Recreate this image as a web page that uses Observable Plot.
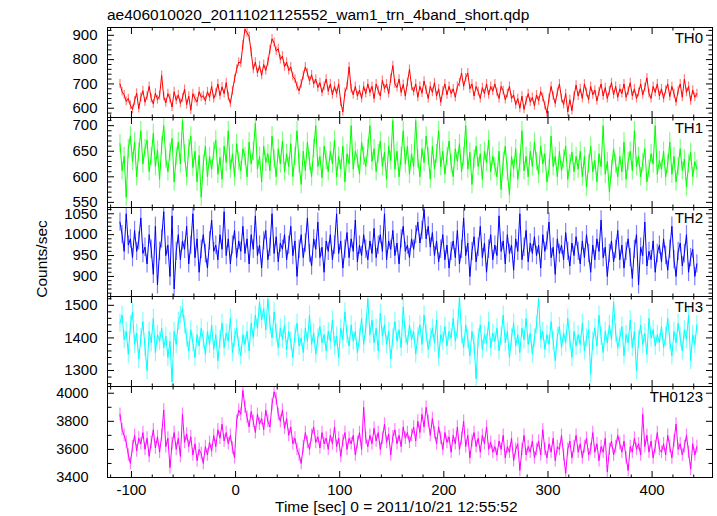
<!DOCTYPE html>
<html><head><meta charset="utf-8">
<script src="https://cdn.jsdelivr.net/npm/d3@7"></script>
<script src="https://cdn.jsdelivr.net/npm/@observablehq/plot@0.6"></script>
<style>
body{margin:0;background:#fff;}
#wrap{position:relative;width:717px;height:516px;overflow:hidden;background:#fff}
#wrap svg{position:absolute;left:0}
</style></head><body><div id="wrap"></div>
<script>
// time bins: start time and bin width (sec)
const t0 = -111, dt = 2;
const th0 = [
700,668,655,628,640,612,595,630,662,598,645,672,625,650,690,640,618,662,635,652,
735,648,622,660,640,605,668,632,655,620,642,678,615,650,592,660,640,625,668,645,
652,630,668,645,690,640,662,700,652,688,660,705,648,620,672,720,760,790,785,860,
925,910,895,830,760,790,745,775,735,780,755,790,840,885,870,835,845,800,815,770,
790,755,770,730,720,690,672,700,735,770,745,712,738,700,720,685,705,665,690,720,
670,700,655,690,660,700,625,585,665,690,770,680,655,690,650,675,640,690,660,700,
665,690,640,700,672,650,715,680,700,660,722,775,700,685,720,665,698,650,705,760,
690,668,700,645,690,662,712,675,640,690,665,705,650,680,625,670,700,655,690,660,
680,645,690,705,745,690,725,745,680,700,650,690,668,640,685,660,700,655,690,670,
700,665,640,690,672,635,660,690,640,655,615,640,600,650,595,630,660,625,645,610,
655,630,668,645,612,580,640,690,650,620,665,700,640,615,660,585,635,590,650,695,
650,680,640,700,665,635,690,655,675,630,668,700,650,685,640,672,705,655,690,645,
680,660,700,645,670,705,650,680,640,665,700,655,685,725,660,640,690,665,700,650,
680,640,675,700,648,690,660,625,672,700,645,720,665,690,630,675,645,660];
const th1 = [
665,612,640,560,655,680,630,668,600,648,690,625,655,672,610,640,685,620,652,595,
660,700,635,610,648,675,590,640,668,625,710,645,600,655,680,618,650,590,642,560,
625,660,600,640,615,650,672,605,638,595,660,628,690,615,645,600,665,630,612,655,
640,600,668,625,650,705,615,640,590,660,628,645,612,680,635,600,655,625,670,610,
645,620,665,600,640,690,625,585,650,612,668,630,600,655,700,620,640,598,660,632,
610,650,625,672,600,640,615,660,590,645,625,700,615,650,635,605,668,640,620,655,
700,630,655,610,645,670,620,648,595,660,632,710,615,650,600,640,690,625,660,605,
645,620,710,635,600,655,628,680,640,595,660,615,645,690,620,650,605,640,670,625,
600,655,630,665,610,640,700,615,648,585,635,660,620,645,595,650,628,672,610,640,
620,600,650,575,630,660,610,565,640,615,655,595,628,690,612,640,600,650,620,668,
630,605,660,625,645,590,615,680,620,640,600,650,612,635,660,595,625,648,610,640,
615,650,600,640,580,625,660,610,632,590,645,620,700,605,630,570,615,655,625,600,
640,610,668,595,630,650,612,690,620,640,600,628,655,590,615,645,625,700,605,632,
615,650,600,625,668,605,640,590,620,655,612,635,580,625,648,600,630,615];
const th2 = [
1030,1000,960,1050,975,990,945,1010,960,985,1040,955,970,930,1000,965,905,1020,880,960,
990,1055,950,975,900,1045,870,960,1000,940,985,965,1020,930,975,1050,945,990,910,965,
1000,955,920,985,1035,960,975,940,1000,965,1055,950,990,930,975,1010,945,985,960,1020,
955,990,930,1000,965,1045,950,975,920,985,1010,940,970,1050,955,995,935,980,965,1000,
940,975,1020,950,985,900,965,1000,945,980,1040,955,925,990,965,1030,945,970,910,985,
960,1000,940,975,1050,955,985,920,965,1005,945,990,960,1035,935,975,950,1000,965,940,
985,955,1015,945,975,1000,960,1050,940,985,965,1010,950,980,930,990,1020,960,975,945,
990,965,1000,1030,980,1010,1060,990,1020,970,1005,950,985,935,965,1000,940,975,920,960,
985,945,1010,930,965,1040,950,980,900,960,995,935,970,1020,945,980,910,965,1000,940,
975,950,1045,960,985,930,1000,955,975,915,990,960,1050,940,970,1010,935,980,955,995,
950,975,920,1000,960,985,1030,945,970,905,990,955,975,940,1005,960,925,980,950,995,
960,930,985,945,1000,955,910,975,940,990,960,1035,945,970,900,955,985,935,965,1010,
940,975,920,960,990,945,895,965,1000,880,970,950,1030,925,960,940,985,910,955,975,
935,990,950,915,965,1020,940,900,960,980,925,955,1000,910,945,965,900,930];
const th3 = [
1445,1470,1395,1420,1350,1440,1480,1380,1415,1335,1400,1450,1370,1300,1420,1385,1460,1355,1410,1390,
1430,1370,1405,1340,1390,1265,1420,1380,1450,1470,1490,1440,1400,1360,1425,1385,1340,1410,1375,1430,
1395,1350,1420,1380,1440,1365,1410,1330,1395,1445,1370,1415,1390,1460,1355,1400,1430,1375,1345,1410,
1380,1420,1360,1445,1400,1470,1430,1510,1455,1490,1425,1520,1440,1400,1480,1415,1370,1430,1395,1440,
1365,1420,1390,1340,1410,1445,1375,1400,1355,1430,1390,1470,1380,1415,1350,1400,1435,1385,1410,1360,
1420,1390,1455,1375,1405,1340,1430,1395,1480,1410,1375,1440,1390,1420,1355,1400,1460,1380,1430,1520,
1410,1455,1385,1430,1360,1475,1405,1440,1380,1420,1335,1400,1450,1390,1425,1370,1495,1410,1380,1440,
1395,1420,1350,1405,1440,1380,1470,1415,1365,1400,1430,1385,1455,1340,1410,1390,1435,1375,1420,1400,
1460,1390,1425,1525,1410,1370,1440,1395,1345,1420,1380,1275,1400,1440,1365,1410,1385,1450,1370,1415,
1390,1430,1360,1405,1470,1385,1420,1340,1400,1445,1375,1410,1355,1430,1395,1460,1380,1415,1350,1400,
1440,1520,1395,1420,1365,1410,1380,1450,1390,1330,1405,1435,1370,1415,1385,1460,1395,1340,1420,1375,
1410,1380,1445,1360,1400,1425,1290,1390,1430,1375,1470,1405,1355,1420,1385,1440,1395,1510,1415,1370,
1400,1435,1345,1410,1385,1455,1370,1420,1300,1395,1440,1380,1415,1350,1460,1400,1425,1375,1410,1385,
1435,1370,1405,1460,1390,1345,1420,1385,1445,1400,1360,1425,1395,1470,1330,1410,1380,1440];
const th0123 = [
3850,3740,3700,3650,3560,3500,3620,3700,3590,3680,3640,3720,3600,3680,3550,3650,3740,3610,3690,3580,
3700,3880,3620,3680,3470,3640,3720,3600,3680,3550,3850,3650,3710,3620,3690,3560,3640,3520,3600,3570,
3500,3620,3560,3650,3590,3700,3620,3740,3680,3780,3660,3720,3640,3700,3610,3540,3800,3880,3850,4020,
3900,3830,3760,3870,3800,3720,3850,3780,3820,3740,3880,3800,3760,3920,4010,3960,3850,3800,3880,3750,
3820,3700,3760,3640,3680,3600,3560,3500,3620,3720,3650,3600,3700,3760,3650,3690,3610,3720,3640,3680,
3600,3700,3640,3760,3620,3680,3550,3660,3720,3600,3680,3640,3700,3560,3650,3720,3600,3900,3680,3620,
3700,3640,3750,3660,3720,3600,3680,3780,3650,3710,3560,3690,3740,3640,3700,3620,3760,3680,3720,3650,
3700,3760,3660,3800,3720,3850,3760,3900,3800,3700,3820,3720,3640,3760,3680,3600,3720,3650,3690,3580,
3700,3640,3760,3600,3680,3800,3620,3700,3540,3660,3720,3620,3680,3580,3700,3640,3760,3600,3650,3580,
3620,3560,3660,3600,3700,3540,3620,3580,3680,3520,3600,3640,3450,3600,3700,3560,3620,3580,3660,3540,
3600,3660,3560,3740,3600,3540,3640,3580,3680,3520,3620,3600,3700,3560,3430,3600,3660,3540,3620,3700,
3580,3640,3540,3620,3680,3560,3600,3720,3580,3640,3520,3620,3580,3680,3440,3600,3660,3560,3620,3700,
3640,3580,3660,3540,3450,3620,3580,3680,3600,3640,3560,3850,3620,3700,3580,3660,3540,3620,3720,3600,
3580,3640,3560,3700,3620,3540,3660,3780,3600,3640,3560,3620,3700,3580,3460,3640,3560,3620];

const series = [th0, th1, th2, th3, th0123];
const bands = ["TH0", "TH1", "TH2", "TH3", "TH0123"];
const colors = ["#ff0000", "#00ff00", "#0000ff", "#00ffff", "#ff00ff"];
const halfErr = [18, 18, 22, 28, 45];
const yDomains = [[562, 932], [540, 716], [852, 1065], [1251, 1527], [3400, 4048]];
const yMajor = [[600, 700, 800, 900], [550, 600, 650, 700], [900, 950, 1000, 1050], [1300, 1400, 1500], [3400, 3600, 3800, 4000]];
const yMinorStep = [20, 10, 10, 20, 100];
const xMajor = [-100, 0, 100, 200, 300, 400];
const xMinorStep = 20;
const xDomain = [-123, 458];
const title = "ae406010020_20111021125552_wam1_trn_4band_short.qdp";
const yTitle = "Counts/sec";
const xTitle = "Time [sec] 0 = 2011/10/21 12:55:52";

const W = 717, ML = 107, MR = 5, PAD = 4;
const edges = [27, 117, 207, 296, 386, 477];
const innerW = W - ML - MR;
const FONT = "'Liberation Sans', Arial, Helvetica, sans-serif";
const wrap = document.getElementById("wrap");

const xMinor = d3.range(-120, 441, xMinorStep).filter(v => !xMajor.includes(v));

series.forEach((vals, i) => {
  const h = edges[i + 1] - edges[i];
  const last = i === series.length - 1;
  const extraB = last ? 36 : 0;
  const data = vals.map((v, k) => ({t: t0 + k * dt, v, lo: v - halfErr[i], hi: v + halfErr[i]}));
  const [d0, d1] = yDomains[i];
  const st = yMinorStep[i];
  const yMinor = d3.range(Math.ceil(d0 / st) * st, d1 + 1e-9, st).filter(v => !yMajor[i].includes(v));
  const tk = (arr, size, o) => Plot.axisX(arr, {tickSize: size, fill: "none", label: null, ...o});
  const tky = (arr, size, o) => Plot.axisY(arr, {tickSize: size, fill: "none", label: null, ...o});
  const marks = [
    Plot.ruleX(data, {x: "t", y1: "lo", y2: "hi", stroke: colors[i], strokeOpacity: 0.5, strokeWidth: 1.2, clip: true}),
    Plot.line(data, {x: "t", y: "v", stroke: colors[i], strokeWidth: 1, clip: true}),
    // inward ticks on all four sides
    tk(xMajor, 7, {anchor: "top", dy: h}),
    tk(xMinor, 3.5, {anchor: "top", dy: h}),
    tk(xMajor, 7, {anchor: "bottom", dy: -h}),
    tk(xMinor, 3.5, {anchor: "bottom", dy: -h}),
    tky(yMajor[i], 6, {anchor: "right", dx: -innerW}),
    tky(yMinor, 3.5, {anchor: "right", dx: -innerW}),
    tky(yMajor[i], 6, {anchor: "left", dx: innerW}),
    tky(yMinor, 3.5, {anchor: "left", dx: innerW}),
    Plot.axisY(yMajor[i], {anchor: "left", tickSize: 0, tickPadding: last ? 19 : 10, label: null,
      fill: "black", fontSize: last ? 14.5 : 15,
      fontFamily: last ? "'Liberation Sans Narrow', 'Liberation Sans', Arial, sans-serif" : FONT,
      tickFormat: d => String(d)}),
    Plot.frame({stroke: "black", strokeWidth: 1})
  ];
  if (last) {
    marks.push(Plot.axisX(xMajor, {anchor: "bottom", tickSize: 0, tickPadding: 7, label: null, fill: "black",
      fontSize: 15, fontFamily: FONT, tickFormat: d => String(d)}));
  }
  const p = Plot.plot({
    width: W, height: h + 2 * PAD + extraB,
    marginLeft: ML, marginRight: MR, marginTop: PAD, marginBottom: PAD + extraB,
    style: {background: "transparent", overflow: "visible"},
    x: {domain: xDomain, axis: null},
    y: {domain: yDomains[i], axis: null},
    marks
  });
  p.style.top = (edges[i] - PAD) + "px";
  wrap.appendChild(p);
});

// overlay text: title, axis titles and band labels
const ov = d3.select(wrap).append("svg")
  .attr("width", W).attr("height", 516)
  .style("top", "0px").style("pointer-events", "none")
  .style("font-family", FONT);
ov.append("text").attr("x", 107).attr("y", 20).attr("font-size", 15.5).text(title);
ov.append("text").attr("transform", "translate(47,259) rotate(-90)").attr("text-anchor", "middle")
  .attr("font-size", 15.5).text(yTitle);
ov.append("text").attr("x", 275).attr("y", 512).attr("font-size", 15.5).text(xTitle);
bands.forEach((b, i) => {
  ov.append("text").attr("x", 703).attr("y", edges[i] + 16.3).attr("text-anchor", "end")
    .attr("font-size", 15).text(b);
});
</script></body></html>
